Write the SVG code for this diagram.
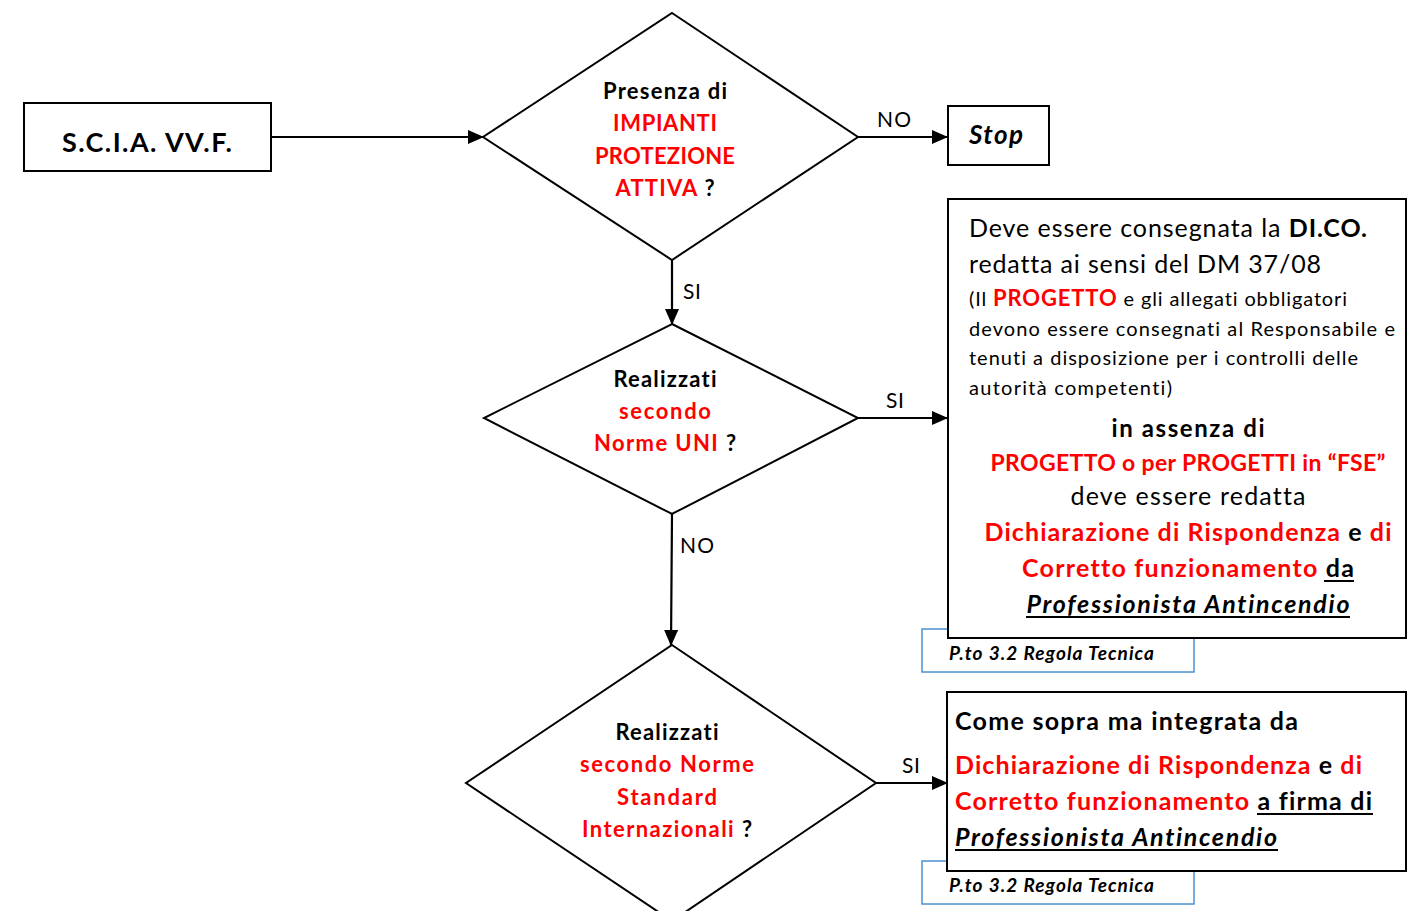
<svg xmlns="http://www.w3.org/2000/svg" width="1407" height="911" viewBox="0 0 1407 911">
<defs>
<marker id="ah" markerWidth="16" markerHeight="14" refX="15" refY="7" orient="auto" markerUnits="userSpaceOnUse">
<path d="M0,0 L16,7 L0,14 Z" fill="#000"/>
</marker>
<style>
.n{fill:#fff;stroke:#000;stroke-width:2}
.ref{fill:#fff;stroke:#4A90D0;stroke-width:1.5}
.c{fill:none;stroke:#000;stroke-width:2.2;marker-end:url(#ah)}
.ul{stroke:#000;stroke-width:2}
text{font-family:Lato,"Open Sans","Liberation Sans",sans-serif;fill:#000;font-variant-ligatures:none}
.b{font-weight:bold}
.i{font-style:italic}
.r{fill:#FF0000}
.m{text-anchor:middle}
.d{font-size:22px;font-weight:bold}
.lbl{font-size:21px}
</style>
</defs>
<g id="connectors">
<line class="c" x1="271" y1="137" x2="483" y2="137"/>
<line class="c" x1="858" y1="137" x2="947" y2="137"/>
<line class="c" x1="672" y1="260" x2="672" y2="324"/>
<line class="c" x1="858" y1="418" x2="947" y2="418"/>
<line class="c" x1="672" y1="514" x2="671" y2="645"/>
<line class="c" x1="876" y1="783" x2="947" y2="783"/>
<text class="lbl" x="877" y="127" textLength="34">NO</text>
<text class="lbl" x="683" y="299" textLength="18">SI</text>
<text class="lbl" x="886" y="408" textLength="18">SI</text>
<text class="lbl" x="680" y="553" textLength="34">NO</text>
<text class="lbl" x="902" y="773" textLength="18">SI</text>
</g>
<g id="scia">
<rect class="n" x="24" y="103" width="247" height="68"/>
<text class="b m" x="147" y="152" font-size="27" textLength="170">S.C.I.A. VV.F.</text>
</g>
<g id="dec1">
<polygon class="n" points="672,13 858,137 672,260 483,137"/>
<text class="d m" x="665" y="99" textLength="124">Presenza di</text>
<text class="d m r" x="665" y="131" textLength="104">IMPIANTI</text>
<text class="d m r" x="665" y="164" textLength="140">PROTEZIONE</text>
<text class="d m" x="665" y="196" textLength="99"><tspan class="r">ATTIVA</tspan> ?</text>
</g>
<g id="stop">
<rect class="n" x="948" y="106" width="101" height="59"/>
<text class="b i" x="969" y="144" font-size="26" textLength="54">Stop</text>
</g>
<g id="dec2">
<polygon class="n" points="672,324 858,418 672,514 484,418"/>
<text class="d m" x="665" y="387" textLength="103">Realizzati</text>
<text class="d m r" x="665" y="419" textLength="92">secondo</text>
<text class="d m" x="665" y="451" textLength="142"><tspan class="r">Norme UNI</tspan> ?</text>
</g>
<g id="dec3">
<polygon class="n" points="672,645 876,783 672,921 466,783"/>
<text class="d m" x="667" y="740" textLength="103">Realizzati</text>
<text class="d m r" x="667" y="772" textLength="174">secondo Norme</text>
<text class="d m r" x="667" y="805" textLength="100">Standard</text>
<text class="d m" x="667" y="837" textLength="170"><tspan class="r">Internazionali</tspan> ?</text>
</g>
<g id="ref1">
<rect class="ref" x="922" y="629" width="272" height="43"/>
<text class="b i" x="949" y="660" font-size="19" textLength="205">P.to 3.2 Regola Tecnica</text>
</g>
<g id="box1">
<rect class="n" x="948" y="199" width="458" height="439"/>
<text x="969" y="237" font-size="25" textLength="398">Deve essere consegnata la <tspan class="b">DI.CO.</tspan></text>
<text x="969" y="273" font-size="25" textLength="352">redatta ai sensi del DM 37/08</text>
<text x="969" y="306" font-size="20" textLength="378">(Il <tspan class="b r" font-size="22">PROGETTO</tspan> e gli allegati obbligatori</text>
<text x="969" y="336" font-size="20" textLength="426">devono essere consegnati al Responsabile e</text>
<text x="969" y="365" font-size="20" textLength="389">tenuti a disposizione per i controlli delle</text>
<text x="969" y="395" font-size="20" textLength="203">autorità competenti)</text>
<text class="b m" x="1188" y="437" font-size="24" textLength="153">in assenza di</text>
<text class="b m r" x="1188" y="471" font-size="23" textLength="395">PROGETTO o per PROGETTI in “FSE”</text>
<text class="m" x="1188" y="505" font-size="25" textLength="235">deve essere redatta</text>
<text class="b m" x="1188" y="541" font-size="25" textLength="407"><tspan class="r">Dichiarazione di Rispondenza</tspan> e <tspan class="r">di</tspan></text>
<text class="b m" x="1188" y="577" font-size="25" textLength="332"><tspan class="r">Corretto funzionamento</tspan> da</text>
<text class="b i m" x="1188" y="613" font-size="25" textLength="323">Professionista Antincendio</text>
<line class="ul" x1="1324" y1="581" x2="1354" y2="581"/>
<line class="ul" x1="1026" y1="617" x2="1350" y2="617"/>
</g>
<g id="ref2">
<rect class="ref" x="922" y="861" width="272" height="43"/>
<text class="b i" x="949" y="892" font-size="19" textLength="205">P.to 3.2 Regola Tecnica</text>
</g>
<g id="box2">
<rect class="n" x="947" y="692" width="459" height="179"/>
<text class="b" x="955" y="730" font-size="25" textLength="343">Come sopra ma integrata da</text>
<text class="b" x="955" y="774" font-size="25" textLength="407"><tspan class="r">Dichiarazione di Rispondenza</tspan> e <tspan class="r">di</tspan></text>
<text class="b" x="955" y="810" font-size="25" textLength="417"><tspan class="r">Corretto funzionamento</tspan> a firma di</text>
<text class="b i" x="955" y="846" font-size="25" textLength="322">Professionista Antincendio</text>
<line class="ul" x1="1257" y1="814" x2="1373" y2="814"/>
<line class="ul" x1="955" y1="850" x2="1278" y2="850"/>
</g>
</svg>
